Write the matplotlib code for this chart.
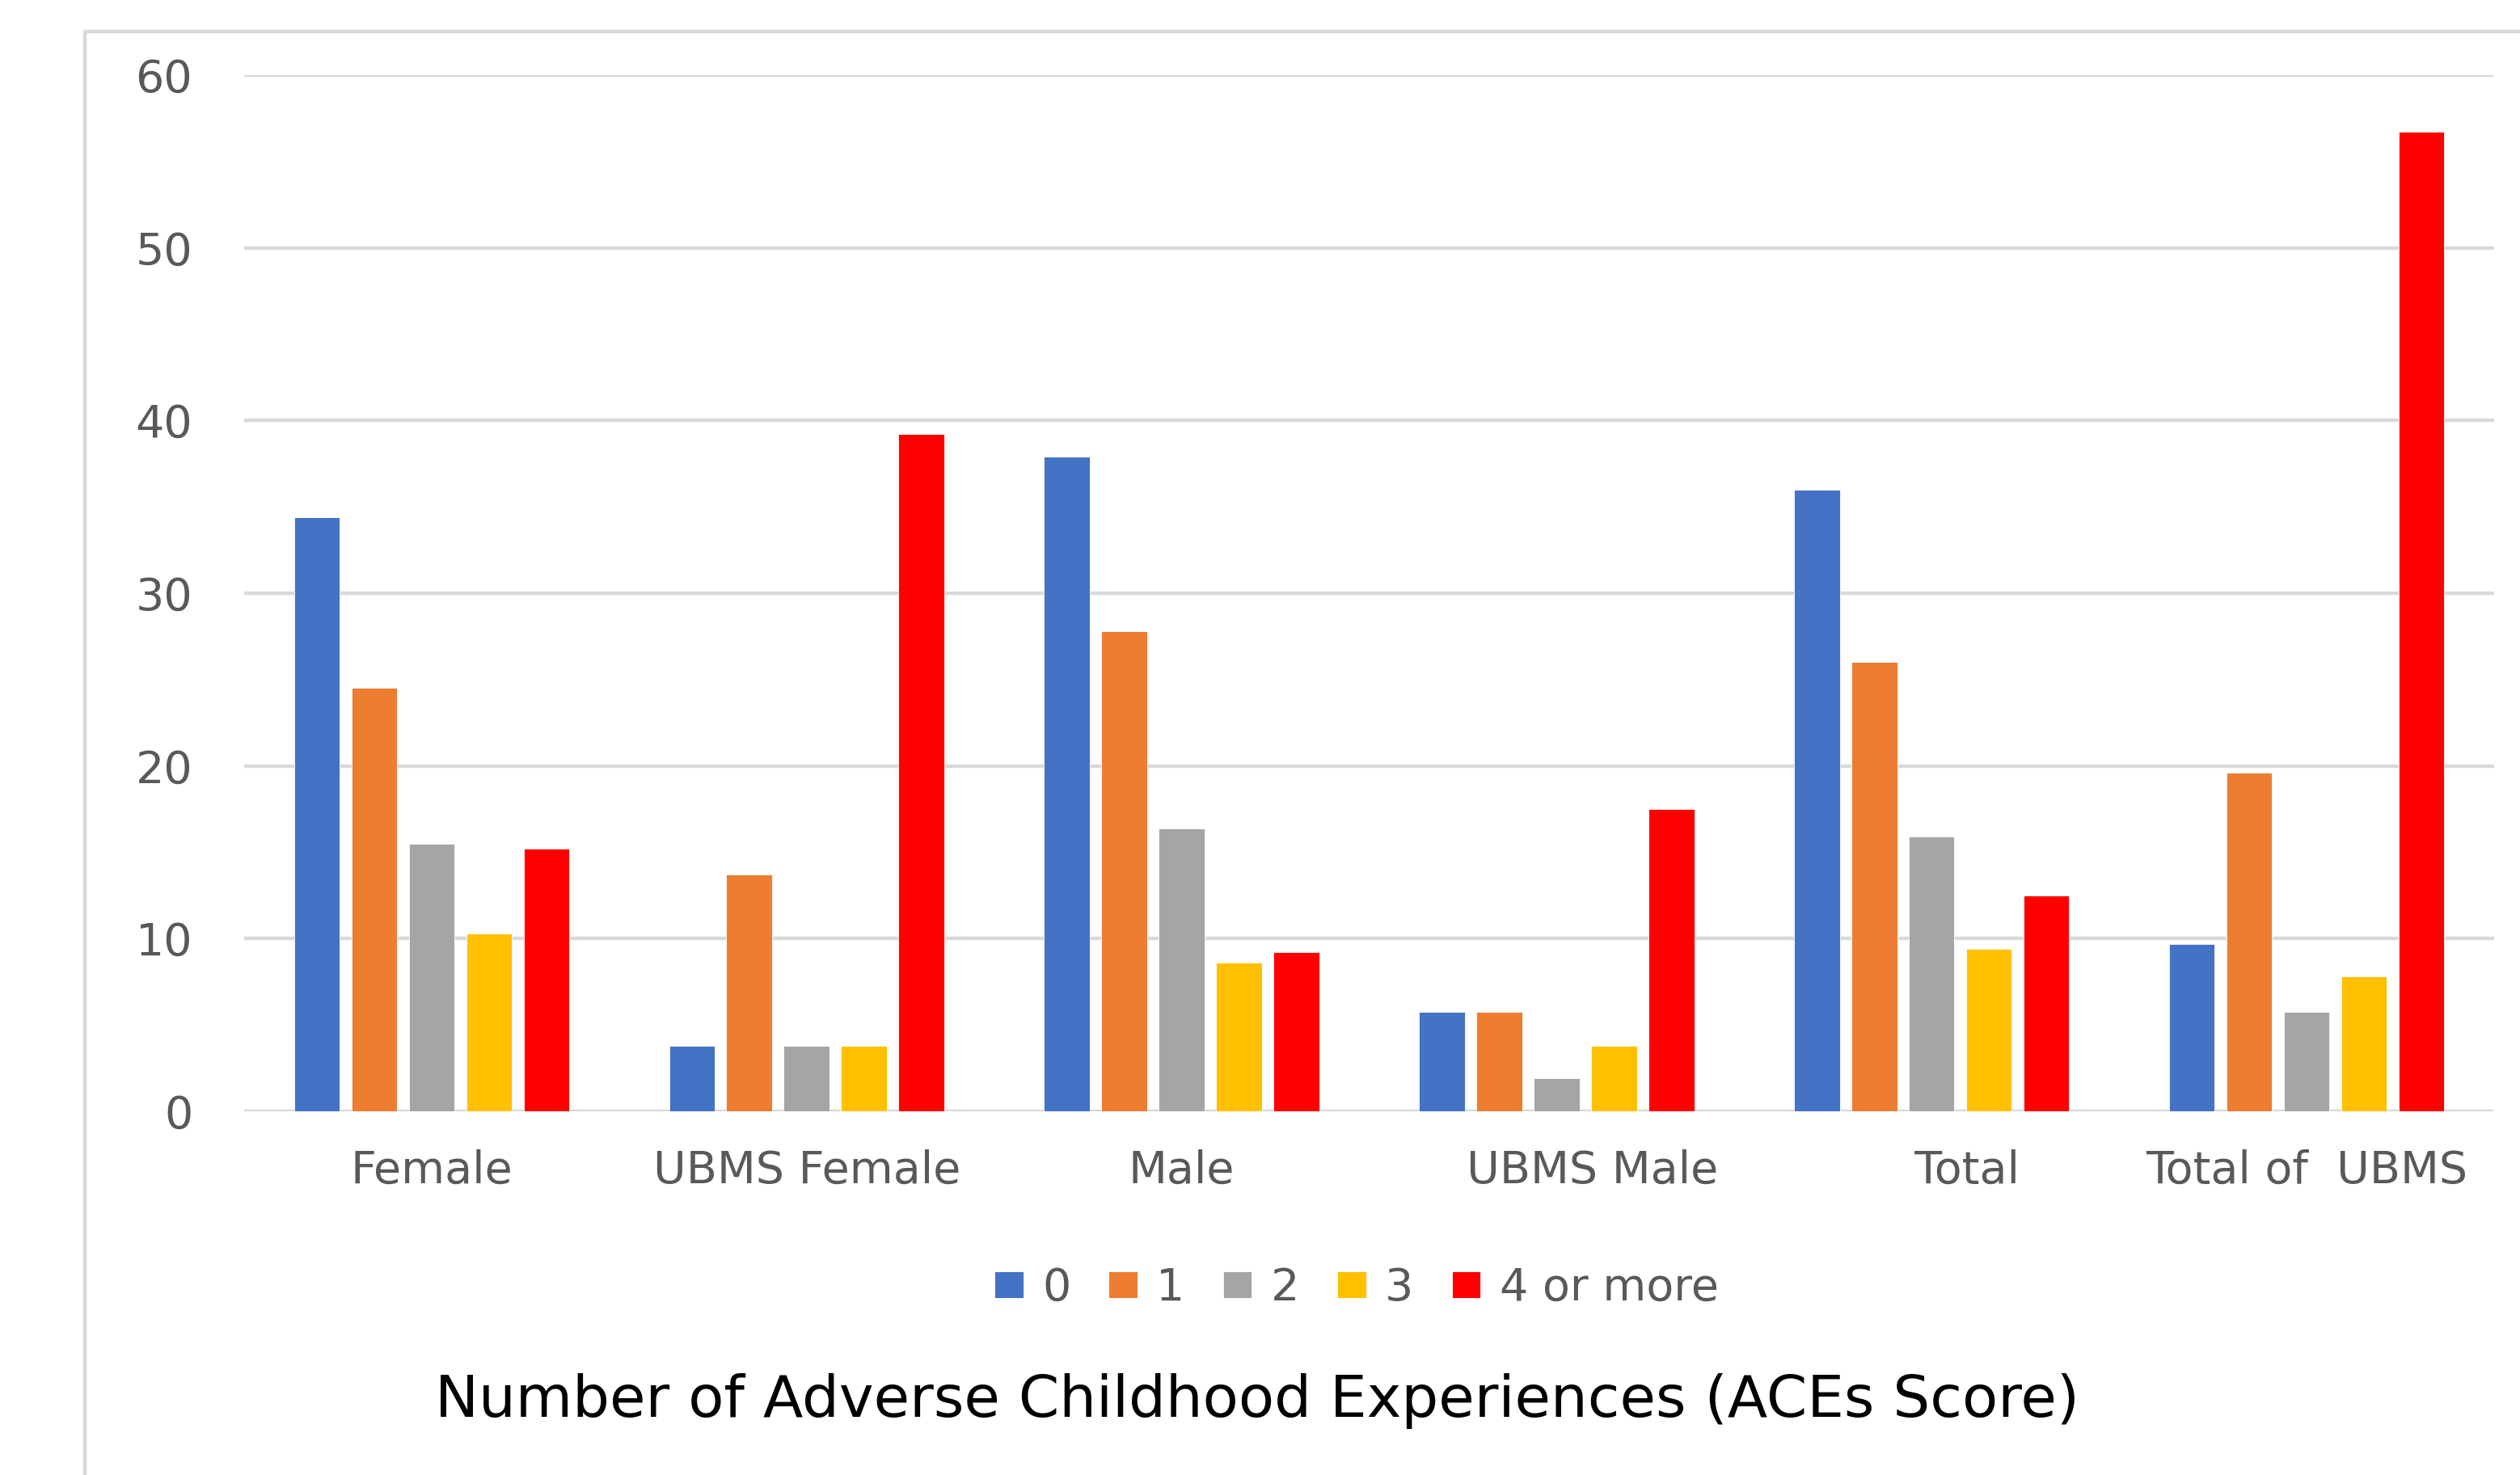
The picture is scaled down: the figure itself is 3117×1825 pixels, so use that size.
import matplotlib
matplotlib.use("Agg")
import matplotlib.pyplot as plt
import numpy as np
from matplotlib.lines import Line2D

categories = ["Female", "UBMS Female", "Male", "     UBMS Male", "     Total", "Total of  UBMS"]
series_names = ["0", "1", "2", "3", "4 or more"]
s0 = [34.4, 3.8, 37.9, 5.75, 36.0, 9.7]
s1 = [24.5, 13.7, 27.8, 5.75, 26.0, 19.6]
s2 = [15.5, 3.8, 16.4, 1.9, 15.9, 5.75]
s3 = [10.3, 3.8, 8.6, 3.8, 9.4, 7.8]
s4 = [15.2, 39.2, 9.2, 17.5, 12.5, 56.7]
yticks = [0, 10, 20, 30, 40, 50, 60]
colors = ["#4472C4", "#ED7D31", "#A5A5A5", "#FFC000", "#FF0000"]

plt.rcParams['font.family'] = ['DejaVu Sans']

fig = plt.figure(figsize=(31.17, 18.25), dpi=100)
ax = fig.add_axes([0.0969, 0.2466, 0.8928, 0.7025])

series = [s0, s1, s2, s3, s4]
x = np.arange(len(categories))
pitch = 0.153
width = 0.122
for i, (vals, name, c) in enumerate(zip(series, series_names, colors)):
    ax.bar(x + (i - 2) * pitch, vals, width=width, color=c, label=name,
           zorder=3, edgecolor="white", linewidth=0.6)

ax.set_xlim(-0.5, len(categories) - 0.5)
ax.set_ylim(0, 60)
ax.set_yticks(yticks)
ax.set_xticks(x)
ax.set_xticklabels(categories)
ax.yaxis.grid(True, color="#D9D9D9", linewidth=3.2, zorder=0)
ax.set_axisbelow(True)
for s in ax.spines.values():
    s.set_visible(False)
ax.tick_params(axis="y", length=0, pad=46, labelsize=40, labelcolor="#595959")
ax.tick_params(axis="x", length=0, pad=34, labelsize=40, labelcolor="#595959")

leg = fig.legend(loc="center", bbox_to_anchor=(0.5383, 0.1266), ncol=5, frameon=False,
                 fontsize=40, handlelength=0.64, handleheight=0.55, handletextpad=0.42,
                 columnspacing=0.85)
for t in leg.get_texts():
    t.set_color("#595959")

fig.text(0.4988, 1 - 1734 / 1825, "Number of Adverse Childhood Experiences (ACEs Score)",
         ha="center", va="center", fontsize=52, color="black")

fig.add_artist(Line2D([105 / 3117, 105 / 3117, 1.01], [-0.01, 1 - 39 / 1825, 1 - 39 / 1825],
                      color="#D9D9D9", linewidth=3.2, transform=fig.transFigure))

fig.savefig("out.png", dpi=100, facecolor="white")
